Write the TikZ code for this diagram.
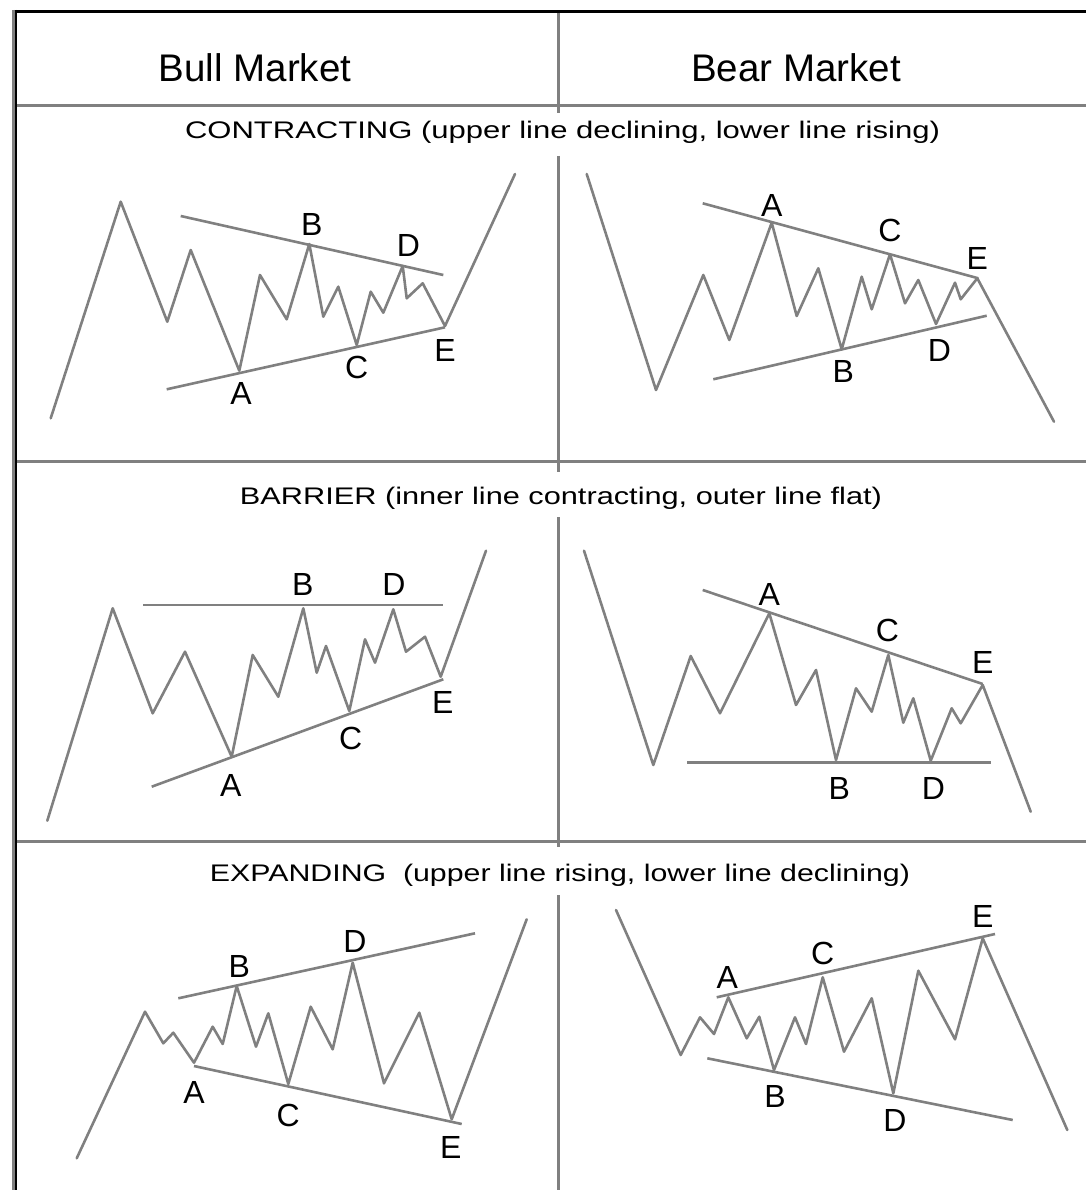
\documentclass[tikz,border=0pt]{standalone}
\usepackage{fontspec}
\setmainfont{Liberation Sans}
\usepackage{graphicx}
\definecolor{linegray}{RGB}{128,128,128}
\begin{document}
\begin{tikzpicture}[x=1pt,y=-1pt,
  grid/.style={draw=linegray, line width=3pt},
  frame/.style={draw=black, line width=3pt},
  wave/.style={draw=linegray, line width=2.6pt, line join=round, line cap=round},
  trend/.style={draw=linegray, line width=2.6pt},
  lbl/.style={font=\fontsize{32}{32}\selectfont, inner sep=0pt},
  ttl/.style={font=\fontsize{38.5}{40}\selectfont, inner sep=0pt, anchor=base},
  sub/.style={font=\fontsize{24}{26}\selectfont, inner sep=0pt, anchor=base}]
\useasboundingbox (0,0) rectangle (1086,1190);
% frame
\draw[draw=linegray, line width=3pt] (13.5,10) -- (13.5,1190);
\draw[draw=black, line width=2.5pt] (16,10) -- (16,1190);
\draw[frame] (14.5,11.5) -- (1086,11.5);
% horizontal separators
\draw[grid] (17,105.5) -- (1086,105.5);
\draw[grid] (17,461.5) -- (1086,461.5);
\draw[grid] (17,841) -- (1086,841);
% vertical separator (interrupted by the titles)
\draw[grid] (558,13) -- (558,113);
\draw[grid] (558,156) -- (558,472);
\draw[grid] (558,517) -- (558,847);
\draw[grid] (558,895) -- (558,1190);
% headers
\node[ttl] (bull) at (255,82) {Bull Market};
\node[ttl] (bear) at (796,82) {Bear Market};
% subtitles
\node[sub] (t1) at (562.5,139) {\resizebox{755pt}{\height}{CONTRACTING (upper line declining, lower line rising)}};
\node[sub] (t2) at (561,504) {\resizebox{642pt}{\height}{BARRIER (inner line contracting, outer line flat)}};
\node[sub] (t3) at (560,881) {\resizebox{700pt}{\height}{EXPANDING\ \ (upper line rising, lower line declining)}};

% ---------- Panel 1: bull contracting
\draw[wave] (50.7,418.3) -- (120.7,201.7) -- (167.3,321.7) -- (190.7,250) -- (239.3,370.7) -- (260,275) -- (286.7,319.3) -- (309.3,244) -- (323.3,316.7) -- (338.3,286.7) -- (356.7,345) -- (370.7,291.7) -- (383.3,312.7) -- (402.7,266) -- (406.7,298.3) -- (422.7,283.3) -- (445,326) -- (515,174);
\draw[trend] (180.7,216) -- (443.3,275);
\draw[trend] (166.7,389.3) -- (445,327.3);
\node[lbl] (p1A) at (241,393.3) {A};
\node[lbl] (p1B) at (311.7,224) {B};
\node[lbl] (p1C) at (356.7,367.3) {C};
\node[lbl] (p1D) at (408.3,245) {D};
\node[lbl] (p1E) at (445,350.7) {E};

% ---------- Panel 2: bear contracting
\draw[wave] (586.7,174) -- (656,390) -- (703.3,275) -- (729.3,340) -- (771.7,222.7) -- (796.7,316) -- (818.3,268.3) -- (841.7,349.3) -- (861.7,276.7) -- (871.7,309.3) -- (890,254.3) -- (905,303.3) -- (918.3,280) -- (936,324) -- (955,282.7) -- (960.7,299.3) -- (977.3,278.3) -- (1054,421.7);
\draw[trend] (702.7,203.3) -- (978.3,278.3);
\draw[trend] (713.3,379.3) -- (986.7,315.7);
\node[lbl] (p2A) at (771.7,205) {A};
\node[lbl] (p2B) at (843.3,371.7) {B};
\node[lbl] (p2C) at (890,230) {C};
\node[lbl] (p2D) at (939.3,350) {D};
\node[lbl] (p2E) at (977.3,258.3) {E};

% ---------- Panel 3: bull barrier
\draw[wave] (47.3,820.7) -- (112.7,608.3) -- (152.7,713.3) -- (185,651.7) -- (231.7,756.7) -- (252.7,655) -- (278.3,696.7) -- (303.3,608.3) -- (316.7,672.7) -- (326,646) -- (349.3,711) -- (365,639.3) -- (375,662.7) -- (393.3,609.3) -- (406,651.7) -- (425,636.7) -- (440.7,676.7) -- (486,550.7);
\draw[trend] (143.3,605) -- (443.3,605);
\draw[trend] (151.7,786.7) -- (443.3,679.3);
\node[lbl] (p3A) at (230.7,785) {A};
\node[lbl] (p3B) at (302.7,584) {B};
\node[lbl] (p3C) at (350.7,738.3) {C};
\node[lbl] (p3D) at (394,584) {D};
\node[lbl] (p3E) at (442.7,702.7) {E};

% ---------- Panel 4: bear barrier
\draw[wave] (584,550.7) -- (653.3,765) -- (690.7,656) -- (720,713.3) -- (769.3,613.3) -- (796,705) -- (816,670) -- (836,760) -- (856,688.3) -- (871.7,711.7) -- (888.3,655) -- (903.3,722.7) -- (913.3,698.3) -- (930.7,760.7) -- (951.7,708.3) -- (960.7,723.3) -- (982.7,685) -- (1030.7,811.7);
\draw[trend] (702.7,590) -- (982.7,684);
\draw[trend] (687.3,762.3) -- (990.7,762.3);
\node[lbl] (p4A) at (769.3,594) {A};
\node[lbl] (p4B) at (839.3,788.3) {B};
\node[lbl] (p4C) at (887.3,630) {C};
\node[lbl] (p4D) at (933.3,788.3) {D};
\node[lbl] (p4E) at (982.7,662.5) {E};

% ---------- Panel 5: bull expanding
\draw[wave] (76.7,1158.3) -- (145,1011.7) -- (163.3,1043.3) -- (173.3,1032.7) -- (194,1062.7) -- (212.7,1026.7) -- (222.7,1044) -- (236.7,986) -- (256,1046.7) -- (268.3,1013.3) -- (288.3,1084) -- (310.7,1006.7) -- (332.7,1049.3) -- (352.7,962.7) -- (384,1083.3) -- (419.3,1012.7) -- (451.7,1119.3) -- (526.7,919.3);
\draw[trend] (178.3,998.3) -- (475,933.3);
\draw[trend] (194,1066) -- (461.7,1124);
\node[lbl] (p5A) at (194,1092) {A};
\node[lbl] (p5B) at (239.3,966) {B};
\node[lbl] (p5C) at (288.3,1115) {C};
\node[lbl] (p5D) at (355,941.5) {D};
\node[lbl] (p5E) at (450.7,1147) {E};

% ---------- Panel 6: bear expanding
\draw[wave] (616,910) -- (680.7,1055) -- (700,1017.3) -- (714,1034) -- (728.3,997.3) -- (746.7,1038.3) -- (759.3,1016.7) -- (774,1070) -- (795,1017.3) -- (806,1044) -- (822.7,977.3) -- (844,1051.7) -- (871.7,998.3) -- (893.3,1093.3) -- (918.3,970.7) -- (955,1039.3) -- (982.7,938.3) -- (1067.3,1130);
\draw[trend] (716.7,997.3) -- (995,934);
\draw[trend] (707.3,1058.3) -- (1012.7,1120);
\node[lbl] (p6A) at (727.3,977.3) {A};
\node[lbl] (p6B) at (775,1096.7) {B};
\node[lbl] (p6C) at (822.7,953.3) {C};
\node[lbl] (p6D) at (895,1120.7) {D};
\node[lbl] (p6E) at (982.7,916.5) {E};
\end{tikzpicture}
\end{document}
